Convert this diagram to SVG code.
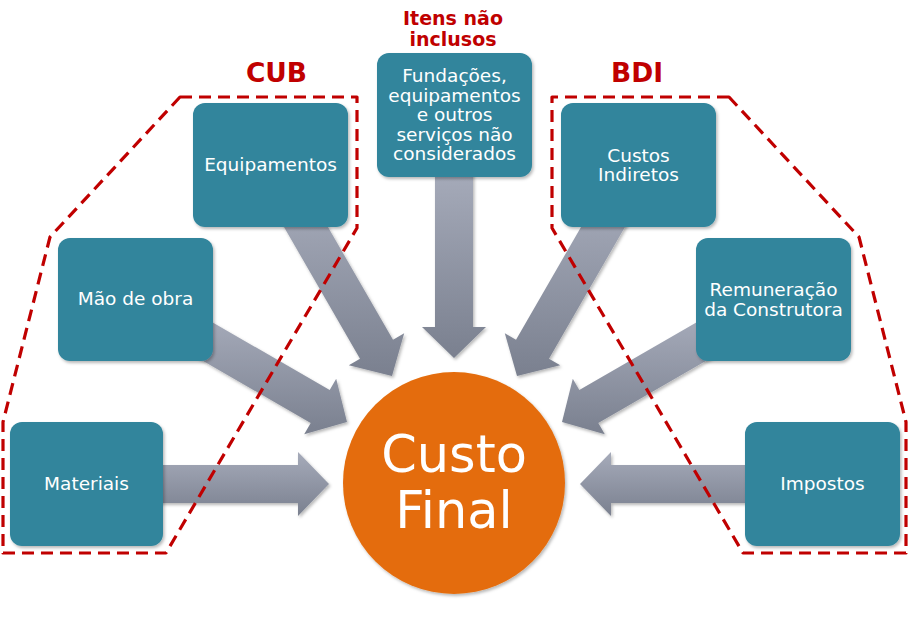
<svg xmlns="http://www.w3.org/2000/svg" width="910" height="630" viewBox="0 0 910 630">
<defs>
<linearGradient id="ag" x1="0" y1="0" x2="0" y2="1">
<stop offset="0" stop-color="#A6ABBA"/>
<stop offset="1" stop-color="#7A808F"/>
</linearGradient>
<filter id="sh" x="-20%" y="-20%" width="140%" height="140%">
<feDropShadow dx="1.5" dy="2" stdDeviation="1.8" flood-color="#000" flood-opacity="0.28"/>
</filter>
</defs>
<style>
.arrow{fill:url(#ag);filter:url(#sh)}
.box{fill:#31859C;filter:url(#sh)}
.bt{fill:#fff;font-family:"DejaVu Sans","Verdana",sans-serif;font-size:18.5px;text-anchor:middle}
.title{fill:#C00000;font-family:"DejaVu Sans","Verdana",sans-serif;font-weight:bold;text-anchor:middle}
.dash{fill:none;stroke:#C00000;stroke-width:3.2;stroke-dasharray:12 7;stroke-linejoin:round}
.big{fill:#fff;font-family:"DejaVu Sans","Verdana",sans-serif;font-size:51px;text-anchor:middle}
</style>
<rect width="910" height="630" fill="#fff"/>
<g id="connectors">
<polygon class="arrow" points="150,465 298,465 298,452 329,484 298,516 298,503 150,503"/>
<polygon class="arrow" points="181.6,348.5 310.7,423 304.2,434.2 347,422 336.2,378.8 329.7,390 200.6,315.5"/>
<polygon class="arrow" points="275.5,212.3 360,358.7 348.8,365.2 392,376 404.2,333.2 393,339.7 308.5,193.3"/>
<polygon class="arrow" points="435,170 435,327 422,327 454,358 486,327 473,327 473,170"/>
<polygon class="arrow" points="633.5,212.3 549,358.7 560.2,365.2 517,376 504.8,333.2 516,339.7 600.5,193.3"/>
<polygon class="arrow" points="727.4,348.5 598.3,423 604.8,434.2 562,422 572.8,378.8 579.3,390 708.4,315.5"/>
<polygon class="arrow" points="760,465 611,465 611,452 580,484 611,516 611,503 760,503"/>
</g>
<g id="groups">
<path class="dash" d="M180,97 L357,97 L357,228 L166,553 L3,553 L3,422 L50,237 Z"/>
<path class="dash" d="M729,97 L552,97 L552,228 L743,553 L906,553 L906,422 L859,237 Z"/>
<text class="title" x="276.5" y="82" font-size="26.5">CUB</text>
<text class="title" x="637" y="82" font-size="26.5">BDI</text>
<text class="title" x="453" y="25" font-size="19">Itens não</text>
<text class="title" x="453" y="46" font-size="19">inclusos</text>
</g>
<g id="materiais">
<rect class="box" x="10" y="422" width="153" height="124" rx="12"/>
<text class="bt" x="86.5" y="490">Materiais</text>
</g>
<g id="mao-de-obra">
<rect class="box" x="58" y="238" width="155" height="123" rx="12"/>
<text class="bt" x="135.5" y="305">Mão de obra</text>
</g>
<g id="equipamentos">
<rect class="box" x="193" y="103" width="155" height="124" rx="12"/>
<text class="bt" x="270.5" y="171">Equipamentos</text>
</g>
<g id="fundacoes">
<rect class="box" x="377" y="53" width="155" height="124" rx="12"/>
<text class="bt" x="454.5" y="82">Fundações,</text>
<text class="bt" x="454.5" y="101.5">equipamentos</text>
<text class="bt" x="454.5" y="121">e outros</text>
<text class="bt" x="454.5" y="140.5">serviços não</text>
<text class="bt" x="454.5" y="160">considerados</text>
</g>
<g id="custos-indiretos">
<rect class="box" x="561" y="103" width="155" height="124" rx="12"/>
<text class="bt" x="638.5" y="162">Custos</text>
<text class="bt" x="638.5" y="181">Indiretos</text>
</g>
<g id="remuneracao">
<rect class="box" x="696" y="238" width="155" height="123" rx="12"/>
<text class="bt" x="773.5" y="296">Remuneração</text>
<text class="bt" x="773.5" y="315.5">da Construtora</text>
</g>
<g id="impostos">
<rect class="box" x="745" y="422" width="155" height="124" rx="12"/>
<text class="bt" x="822.5" y="490">Impostos</text>
</g>
<g id="custo-final">
<circle cx="454" cy="483" r="111" fill="#E46C0A" filter="url(#sh)"/>
<text class="big" x="454" y="472">Custo</text>
<text class="big" x="454" y="528">Final</text>
</g>
</svg>
